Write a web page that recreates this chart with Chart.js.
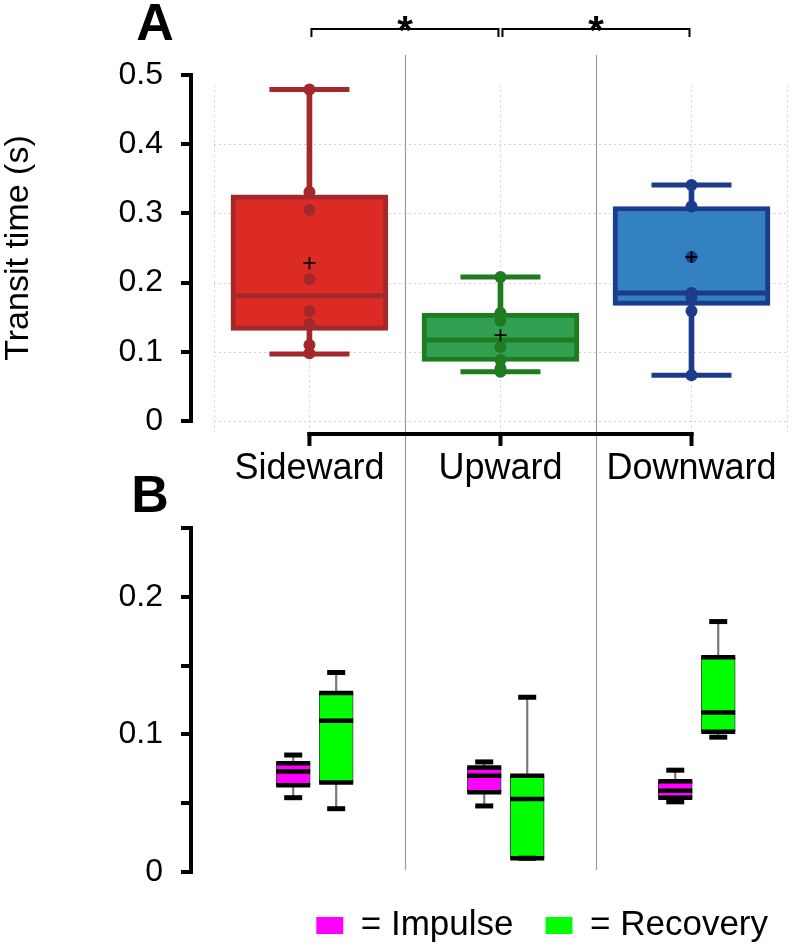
<!DOCTYPE html>
<html>
<head>
<meta charset="utf-8">
<script src="https://cdn.jsdelivr.net/npm/chart.js@4.4.1/dist/chart.umd.min.js"></script>
<style>
    html, body { margin: 0; padding: 0; background: #fff; overflow: hidden; }
    #pagina { position: relative; width: 800px; height: 946px; overflow: hidden; background: #fff; }
    #cajaA { position: absolute; left: 0; top: 0; width: 800px; height: 500px; }
    #cajaB { position: absolute; left: 0; top: 470px; width: 800px; height: 483px; }
</style>
</head>
<body>
<div id="pagina">
    <div id="cajaA"><canvas id="grafica-a" width="800" height="500"></canvas></div>
    <div id="cajaB"><canvas id="grafica-b" width="800" height="483"></canvas></div>
</div>
<script>
// ---- datos ----
const grupos = ['Sideward', 'Upward', 'Downward'];

// Panel A: transit time (s)
const aMin = [0.097, 0.071, 0.066];
const aQ1 = [0.131, 0.086, 0.167];
const aMediana = [0.181, 0.117, 0.185];
const aQ3 = [0.327, 0.156, 0.310];
const aMax = [0.479, 0.208, 0.341];
const aMedia = [0.228, 0.124, 0.237];
const aPuntos = [
    [0.479, 0.331, 0.305, 0.205, 0.159, 0.140, 0.110, 0.098],
    [0.208, 0.156, 0.145, 0.107, 0.088, 0.076, 0.071],
    [0.341, 0.310, 0.237, 0.185, 0.178, 0.159, 0.066]
];
const aTicks = [0, 0.1, 0.2, 0.3, 0.4, 0.5];
const aTickLabels = ['0', '0.1', '0.2', '0.3', '0.4', '0.5'];
const significancia = [[0, 1, '*'], [1, 2, '*']];

// Panel B: impulse / recovery
const impMin = [0.054, 0.048, 0.051];
const impQ1 = [0.063, 0.058, 0.054];
const impMediana = [0.073, 0.070, 0.059];
const impQ3 = [0.079, 0.076, 0.066];
const impMax = [0.085, 0.080, 0.074];
const recMin = [0.046, 0.010, 0.098];
const recQ1 = [0.065, 0.010, 0.102];
const recMediana = [0.110, 0.053, 0.116];
const recQ3 = [0.130, 0.070, 0.156];
const recMax = [0.145, 0.127, 0.182];
const bTicks = [0, 0.05, 0.1, 0.15, 0.2, 0.25];
const bTickLabels = ['0', '', '0.1', '', '0.2', ''];

// ---- estilo ----
const FUENTE = "'Liberation Sans', Arial, sans-serif";
const rellenoA = ['#dc2b25', '#31a050', '#3381c1'];
const bordeA = ['#a3282b', '#1f7b1f', '#1b3b8b'];
const X_MIN = -0.62;
const X_MAX = 2.568;

const seriesB = [
    { nombre: 'Impulse', color: '#ff00ff', despl: -0.085, min: impMin, q1: impQ1, med: impMediana, q3: impQ3, max: impMax },
    { nombre: 'Recovery', color: '#00ff00', despl: 0.14, min: recMin, q1: recQ1, med: recMediana, q3: recQ3, max: recMax }
];

Chart.defaults.color = '#000';
Chart.defaults.font.family = FUENTE;

function linea(ctx, x1, y1, x2, y2) {
    ctx.beginPath();
    ctx.moveTo(x1, y1);
    ctx.lineTo(x2, y2);
    ctx.stroke();
}

// los ejes no deben reservar espacio extra para medias etiquetas
function sinRellenoX(s, alto) {
    s.height = alto;
    s.paddingLeft = 0;
    s.paddingRight = 0;
}

function sinRellenoY(s) {
    s.width = 191;
    s.paddingTop = 0;
    s.paddingBottom = 0;
}

// separadores verticales entre grupos (compartidos por ambos paneles)
function dibujarSeparadores(chart, yDesde, yHasta) {
    const { ctx, scales: { x } } = chart;
    ctx.save();
    ctx.strokeStyle = '#9c9c9c';
    ctx.lineWidth = 1.2;
    [0.5, 1.5].forEach(v => {
        const px = Math.round(x.getPixelForValue(v)) + 0.5;
        linea(ctx, px, yDesde, px, yHasta);
    });
    ctx.restore();
}

const decoracionA = {
    id: 'decoracionA',
    beforeDatasetsDraw(chart) {
        const { ctx, scales: { x, y } } = chart;
        ctx.save();
        ctx.strokeStyle = '#d2d2d2';
        ctx.lineWidth = 1;
        ctx.setLineDash([2, 3]);
        const izq = x.getPixelForValue(-0.5);
        const der = x.getPixelForValue(2.5);
        aTicks.slice(0, -1).forEach(v => {
            const py = Math.round(y.getPixelForValue(v)) + 0.5;
            linea(ctx, izq, py, der, py);
        });
        [-0.5, 0, 1, 2, 2.5].forEach(v => {
            const px = Math.round(x.getPixelForValue(v)) + 0.5;
            linea(ctx, px, y.getPixelForValue(0.485), px, y.getPixelForValue(-0.021));
        });
        ctx.restore();
        dibujarSeparadores(chart, y.getPixelForValue(0.5) - 20, chart.height);
    },
    afterDraw(chart) {
        const { ctx, scales: { x, y }, chartArea } = chart;
        ctx.save();
        ctx.strokeStyle = '#000';
        ctx.fillStyle = '#000';

        // corchete inferior bajo las categorias
        const yBase = y.getPixelForValue(0) + 13;
        ctx.lineWidth = 4;
        ctx.lineCap = 'square';
        linea(ctx, x.getPixelForValue(0), yBase, x.getPixelForValue(grupos.length - 1), yBase);
        grupos.forEach((g, i) => {
            const px = x.getPixelForValue(i);
            linea(ctx, px, yBase, px, yBase + 10);
        });

        // corchetes de significancia
        const ySig = y.getPixelForValue(0.5) - 46;
        ctx.lineWidth = 2;
        ctx.lineCap = 'butt';
        ctx.font = 'bold 40px ' + FUENTE;
        ctx.textAlign = 'center';
        ctx.textBaseline = 'alphabetic';
        significancia.forEach(([a, b, marca]) => {
            const x1 = x.getPixelForValue(a) + 2;
            const x2 = x.getPixelForValue(b) - 2;
            ctx.beginPath();
            ctx.moveTo(x1, ySig + 8);
            ctx.lineTo(x1, ySig);
            ctx.lineTo(x2, ySig);
            ctx.lineTo(x2, ySig + 8);
            ctx.stroke();
            ctx.fillText(marca, (x1 + x2) / 2, ySig + 15);
        });

        // etiqueta del panel
        ctx.font = 'bold 52px ' + FUENTE;
        ctx.fillText('A', chartArea.left - 36, y.getPixelForValue(0.5) - 35);
        ctx.restore();
    }
};

const decoracionB = {
    id: 'decoracionB',
    beforeDatasetsDraw(chart) {
        const { scales: { y }, chartArea } = chart;
        dibujarSeparadores(chart, chartArea.top - 28, y.getPixelForValue(0) - 2);
    },
    afterDraw(chart) {
        const { ctx, chartArea } = chart;
        ctx.save();
        ctx.fillStyle = '#000';
        ctx.font = 'bold 52px ' + FUENTE;
        ctx.textAlign = 'center';
        ctx.textBaseline = 'alphabetic';
        ctx.fillText('B', chartArea.left - 41, chartArea.top - 16);
        ctx.restore();
    }
};

function datasetsPanelA() {
    const idx = grupos.map((g, i) => i);
    const puntos = [];
    const colorPuntos = [];
    aPuntos.forEach((lista, i) => {
        lista.forEach(v => {
            puntos.push({ x: i, y: v });
            colorPuntos.push(bordeA[i]);
        });
    });
    const topes = [];
    const colorTopes = [];
    idx.forEach(i => {
        topes.push({ x: i, y: aMin[i] }, { x: i, y: aMax[i] });
        colorTopes.push(bordeA[i], bordeA[i]);
    });

    return [
        {
            type: 'scatter', label: 'media',
            data: idx.map(i => ({ x: i, y: aMedia[i] })),
            pointStyle: 'cross', pointRadius: 6, pointBorderWidth: 1.8, pointBorderColor: '#000',
            order: 0
        },
        {
            type: 'scatter', label: 'puntos',
            data: puntos,
            pointStyle: 'circle', pointRadius: 6, pointBorderWidth: 0, pointBackgroundColor: colorPuntos,
            order: 1
        },
        {
            type: 'scatter', label: 'topes',
            data: topes,
            pointStyle: 'line', pointRadius: 40, pointBorderWidth: 5, pointBorderColor: colorTopes,
            order: 2
        },
        {
            type: 'scatter', label: 'mediana',
            data: idx.map(i => ({ x: i, y: aMediana[i] })),
            pointStyle: 'line', pointRadius: 74, pointBorderWidth: 5, pointBorderColor: bordeA,
            order: 3
        },
        {
            type: 'bar', label: 'caja',
            data: idx.map(i => ({ x: i, y: [aQ1[i], aQ3[i]] })),
            backgroundColor: rellenoA, borderColor: bordeA, borderWidth: 5, borderSkipped: false,
            barThickness: 157, grouped: false,
            order: 4
        },
        {
            type: 'bar', label: 'bigote',
            data: idx.map(i => ({ x: i, y: [aMin[i], aMax[i]] })),
            backgroundColor: bordeA, borderWidth: 0,
            barThickness: 5, grouped: false,
            order: 5
        }
    ];
}

function datasetsPanelB() {
    const ds = [];
    seriesB.forEach(s => {
        const xs = grupos.map((g, i) => i + s.despl);
        ds.push({
            type: 'scatter', label: s.nombre + ' cuartiles',
            data: xs.flatMap((x, i) => [{ x, y: s.q1[i] }, { x, y: s.med[i] }, { x, y: s.q3[i] }]),
            pointStyle: 'line', pointRadius: 17, pointBorderWidth: 4.5, pointBorderColor: '#000',
            order: 0
        });
        ds.push({
            type: 'scatter', label: s.nombre + ' topes',
            data: xs.flatMap((x, i) => [{ x, y: s.min[i] }, { x, y: s.max[i] }]),
            pointStyle: 'line', pointRadius: 9, pointBorderWidth: 5, pointBorderColor: '#000',
            order: 0
        });
        ds.push({
            type: 'bar', label: '= ' + s.nombre,
            data: xs.map((x, i) => ({ x, y: [s.q1[i], s.q3[i]] })),
            backgroundColor: s.color, borderColor: '#444', borderWidth: 1, borderSkipped: false,
            barThickness: 34, grouped: false,
            order: 1
        });
        ds.push({
            type: 'bar', label: s.nombre + ' bigote',
            data: xs.map((x, i) => ({ x, y: [s.min[i], s.max[i]] })),
            backgroundColor: '#777', borderWidth: 0,
            barThickness: 1.5, grouped: false,
            order: 2
        });
    });
    return ds;
}

function inicializarPanelA() {
    const ctx = document.getElementById('grafica-a').getContext('2d');
    const config = {
        type: 'bar',
        data: { datasets: datasetsPanelA() },
        options: {
            responsive: false,
            animation: false,
            events: [],
            layout: { autoPadding: false, padding: { top: 75, right: 0, bottom: 0, left: 0 } },
            plugins: { legend: { display: false }, tooltip: { enabled: false } },
            scales: {
                x: {
                    type: 'linear', min: X_MIN, max: X_MAX, offset: false,
                    afterBuildTicks: s => { s.ticks = grupos.map((g, i) => ({ value: i })); },
                    afterFit: s => sinRellenoX(s, 79),
                    grid: { display: false, drawTicks: false },
                    border: { display: false },
                    ticks: {
                        autoSkip: false, maxRotation: 0, padding: 26,
                        font: { size: 36 },
                        callback: (v, i) => grupos[i]
                    }
                },
                y: {
                    type: 'linear', min: 0, max: 0.5,
                    afterBuildTicks: s => { s.ticks = aTicks.map(v => ({ value: v })); },
                    afterFit: sinRellenoY,
                    grid: { drawOnChartArea: false, drawTicks: true, tickLength: 10, color: '#000', lineWidth: 4 },
                    border: { display: true, color: '#000', width: 4 },
                    ticks: {
                        autoSkip: false, padding: 18,
                        font: { size: 32 },
                        callback: (v, i) => aTickLabels[i]
                    },
                    title: {
                        display: true, text: 'Transit time (s)',
                        font: { size: 34, lineHeight: 1 },
                        padding: { top: 2, bottom: 0 }
                    }
                }
            }
        },
        plugins: [decoracionA]
    };
    window.graficaA = new Chart(ctx, config);
}

function inicializarPanelB() {
    const ctx = document.getElementById('grafica-b').getContext('2d');
    const config = {
        type: 'bar',
        data: { datasets: datasetsPanelB() },
        options: {
            responsive: false,
            animation: false,
            events: [],
            layout: { autoPadding: false, padding: { top: 58, right: 0, bottom: 0, left: 0 } },
            plugins: {
                tooltip: { enabled: false },
                legend: {
                    display: true, position: 'bottom', align: 'end',
                    labels: {
                        boxWidth: 27, boxHeight: 17, padding: 32,
                        font: { size: 35 },
                        generateLabels: () => seriesB.map(s => ({
                            text: '= ' + s.nombre, fillStyle: s.color, strokeStyle: s.color,
                            lineWidth: 0, hidden: false
                        }))
                    }
                }
            },
            scales: {
                x: {
                    type: 'linear', min: X_MIN, max: X_MAX, offset: false,
                    afterFit: s => sinRellenoX(s, Math.max(0, s.chart.height - 402 - s.chart.legend.height)),
                    grid: { display: false, drawTicks: false },
                    border: { display: false },
                    ticks: { display: false }
                },
                y: {
                    type: 'linear', min: 0, max: 0.25,
                    afterBuildTicks: s => { s.ticks = bTicks.map(v => ({ value: v })); },
                    afterFit: sinRellenoY,
                    grid: { drawOnChartArea: false, drawTicks: true, tickLength: 10, color: '#000', lineWidth: 4 },
                    border: { display: true, color: '#000', width: 4 },
                    ticks: {
                        autoSkip: false, padding: 18,
                        font: { size: 32 },
                        callback: (v, i) => bTickLabels[i]
                    }
                }
            }
        },
        plugins: [decoracionB]
    };
    window.graficaB = new Chart(ctx, config);
}

inicializarPanelA();
inicializarPanelB();
</script>
</body>
</html>
